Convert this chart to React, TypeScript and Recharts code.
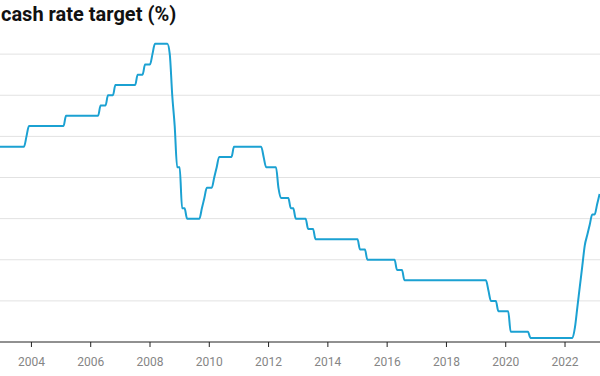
import { LineChart, Line, XAxis, YAxis, ReferenceLine } from "recharts";

// RBA cash rate target, monthly, first point is Nov 2002
const FIRST_MONTH = 2002 + 10 / 12;
const cashRate = [
  // 2002 (Nov, Dec)
  4.75, 4.75,
  // 2003
  4.75, 4.75, 4.75, 4.75, 4.75, 4.75, 4.75, 4.75, 4.75, 4.75, 5.0, 5.25,
  // 2004
  5.25, 5.25, 5.25, 5.25, 5.25, 5.25, 5.25, 5.25, 5.25, 5.25, 5.25, 5.25,
  // 2005
  5.25, 5.25, 5.5, 5.5, 5.5, 5.5, 5.5, 5.5, 5.5, 5.5, 5.5, 5.5,
  // 2006
  5.5, 5.5, 5.5, 5.5, 5.75, 5.75, 5.75, 6.0, 6.0, 6.0, 6.25, 6.25,
  // 2007
  6.25, 6.25, 6.25, 6.25, 6.25, 6.25, 6.25, 6.5, 6.5, 6.5, 6.75, 6.75,
  // 2008
  6.75, 7.0, 7.25, 7.25, 7.25, 7.25, 7.25, 7.25, 7.0, 6.0, 5.25, 4.25,
  // 2009
  4.25, 3.25, 3.25, 3.0, 3.0, 3.0, 3.0, 3.0, 3.0, 3.25, 3.5, 3.75,
  // 2010
  3.75, 3.75, 4.0, 4.25, 4.5, 4.5, 4.5, 4.5, 4.5, 4.5, 4.75, 4.75,
  // 2011
  4.75, 4.75, 4.75, 4.75, 4.75, 4.75, 4.75, 4.75, 4.75, 4.75, 4.5, 4.25,
  // 2012
  4.25, 4.25, 4.25, 4.25, 3.75, 3.5, 3.5, 3.5, 3.5, 3.25, 3.25, 3.0,
  // 2013
  3.0, 3.0, 3.0, 3.0, 2.75, 2.75, 2.75, 2.5, 2.5, 2.5, 2.5, 2.5,
  // 2014
  2.5, 2.5, 2.5, 2.5, 2.5, 2.5, 2.5, 2.5, 2.5, 2.5, 2.5, 2.5,
  // 2015
  2.5, 2.25, 2.25, 2.25, 2.0, 2.0, 2.0, 2.0, 2.0, 2.0, 2.0, 2.0,
  // 2016
  2.0, 2.0, 2.0, 2.0, 1.75, 1.75, 1.75, 1.5, 1.5, 1.5, 1.5, 1.5,
  // 2017
  1.5, 1.5, 1.5, 1.5, 1.5, 1.5, 1.5, 1.5, 1.5, 1.5, 1.5, 1.5,
  // 2018
  1.5, 1.5, 1.5, 1.5, 1.5, 1.5, 1.5, 1.5, 1.5, 1.5, 1.5, 1.5,
  // 2019
  1.5, 1.5, 1.5, 1.5, 1.5, 1.25, 1.0, 1.0, 1.0, 0.75, 0.75, 0.75,
  // 2020
  0.75, 0.75, 0.25, 0.25, 0.25, 0.25, 0.25, 0.25, 0.25, 0.25, 0.1, 0.1,
  // 2021
  0.1, 0.1, 0.1, 0.1, 0.1, 0.1, 0.1, 0.1, 0.1, 0.1, 0.1, 0.1,
  // 2022
  0.1, 0.1, 0.1, 0.1, 0.35, 0.85, 1.35, 1.85, 2.35, 2.6, 2.85, 3.1,
  // 2023
  3.1, 3.35, 3.6,
];

const yearTicks = [2004, 2006, 2008, 2010, 2012, 2014, 2016, 2018, 2020, 2022];
const gridRates = [1, 2, 3, 4, 5, 6, 7];

const data = cashRate.map((rate, i) => ({ t: FIRST_MONTH + i / 12, rate }));

export default function App() {
  return (
    <div
      style={{
        position: "absolute",
        left: 0,
        top: 0,
        width: 600,
        height: 376,
        background: "#fff",
        fontFamily: "Roboto, sans-serif",
      }}
    >
      <LineChart
        width={600}
        height={376}
        data={data}
        margin={{ top: 13, right: 0, bottom: 0, left: 0 }}
      >
        <XAxis
          dataKey="t"
          type="number"
          domain={[2002.94, 2023.18]}
          allowDataOverflow
          ticks={yearTicks}
          height={34}
          tickSize={5}
          tickMargin={10}
          axisLine={{ stroke: "#222" }}
          tickLine={{ stroke: "#222" }}
          tick={{ fontSize: 12, fill: "#858585" }}
        />
        <YAxis hide domain={[0, 8]} />
        {gridRates.map((v) => (
          <ReferenceLine key={v} y={v} stroke="#e2e2e2" strokeWidth={1} />
        ))}
        <Line
          type="monotone"
          dataKey="rate"
          stroke="#1ba1d2"
          strokeWidth={2}
          dot={false}
          isAnimationActive={false}
        />
      </LineChart>
      <div
        style={{
          position: "absolute",
          left: 1,
          top: 2,
          fontSize: 20,
          fontWeight: 700,
          color: "#111",
          lineHeight: "24px",
        }}
      >
        cash rate target (%)
      </div>
    </div>
  );
}
